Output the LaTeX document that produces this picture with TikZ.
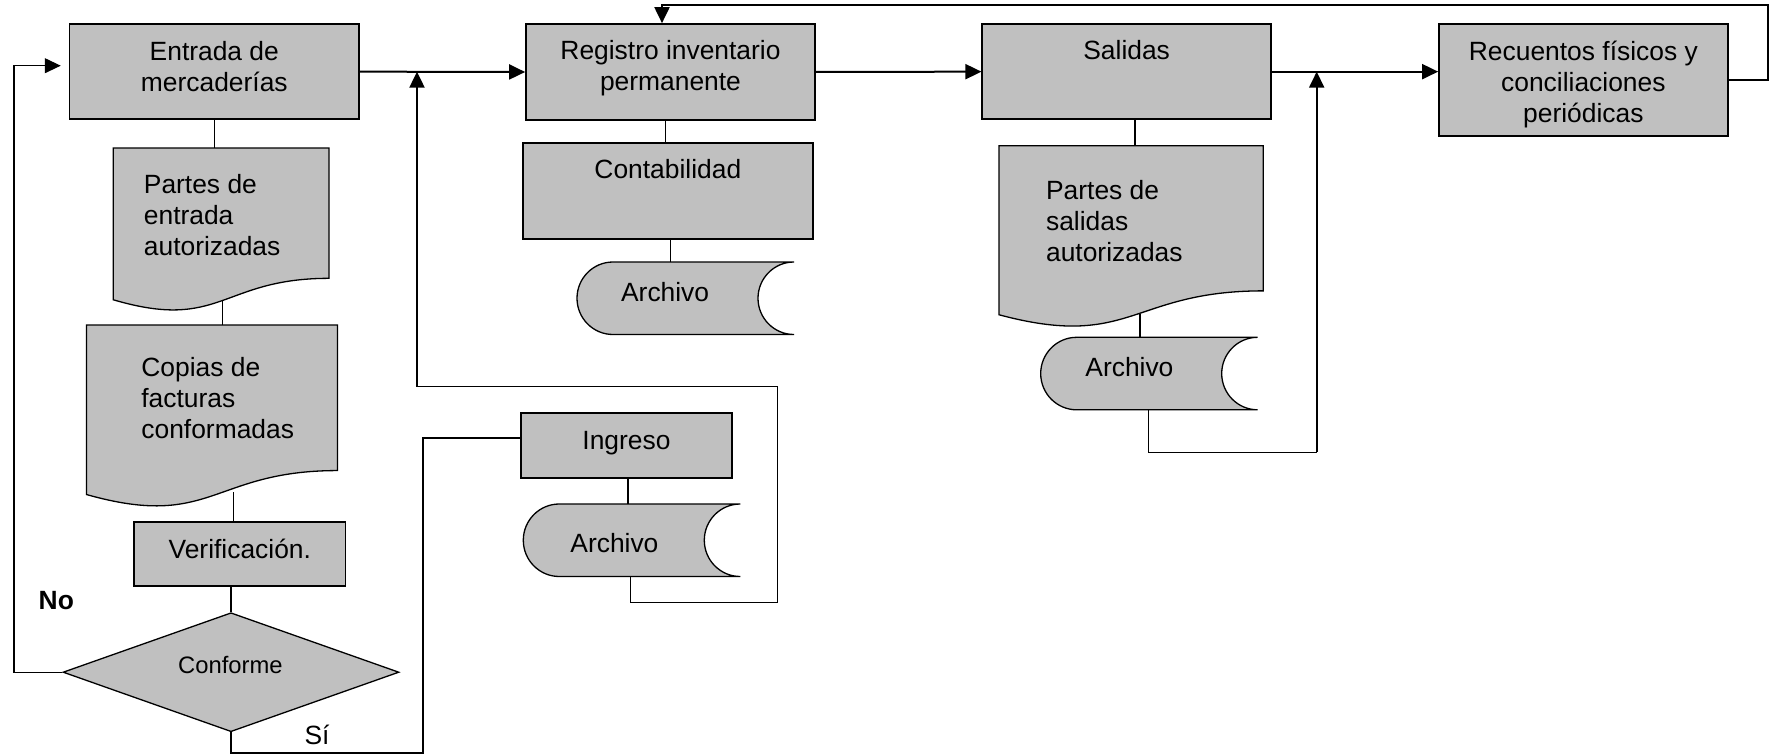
\documentclass[tikz,border=0pt]{standalone}
\usepackage{fontspec}
\setmainfont{Liberation Sans}
\usetikzlibrary{arrows.meta,shapes.geometric}
\definecolor{boxgray}{HTML}{C0C0C0}
\newcommand\txtsize{\fontsize{13.2pt}{15.5pt}\selectfont}
\newcommand\smalltxt{\fontsize{11.9pt}{14pt}\selectfont}
% document symbol: left x, right x, top y, nominal height
\newcommand\docpath[4]{%
  \pgfmathsetmacro\dcyR{#3+0.802*#4}%
  \pgfmathsetmacro\dcyC{#3+1.13*#4}%
  \pgfmathsetmacro\dcyL{#3+0.934*#4}%
  \pgfmathsetmacro\dcxM{(#1+#2)/2}%
  \path[shapeline] (#1,#3) -- (#2,#3) -- (#2,\dcyR)
    .. controls (\dcxM,\dcyR) and (\dcxM,\dcyC) .. (#1,\dcyL) -- cycle;}
\begin{document}
\begin{tikzpicture}[x=0.5pt,y=-0.5pt,
  boxshape/.style={draw, fill=boxgray, line width=0.85pt, inner sep=0pt},
  sz/.style 2 args={minimum width={#1*0.5pt}, minimum height={#2*0.5pt}},
  shapeline/.style={draw, fill=boxgray, line width=0.65pt},
  link/.style={line width=0.6pt},
  flow/.style={line width=1pt, -{Triangle[length=8pt,width=7.5pt]}},
  txt/.style={font=\txtsize, inner sep=0pt, align=center},
  pics/archivo/.style={code={
    \path[shapeline] (36,0) -- (217,0)
      .. controls (197.1,0) and (181,16.25) .. (181,36.25)
      .. controls (181,56.25) and (197.1,72.5) .. (217,72.5)
      -- (36,72.5)
      .. controls (16.1,72.5) and (0,56.25) .. (0,36.25)
      .. controls (0,16.25) and (16.1,0) .. (36,0) -- cycle;
  }}]
\useasboundingbox (0,0) rectangle (1769,755);

% ---- process boxes
\node[boxshape, sz={289.4}{95.3}] (ent) at (214.3,71.65) {};
\node[boxshape, sz={289}{96}] (reg) at (670.5,72) {};
\node[boxshape, sz={289.7}{96}] (cont) at (667.85,191) {};
\node[boxshape, sz={288.7}{95.3}] (sal) at (1126.65,71.65) {};
\node[boxshape, sz={288.7}{111.7}] (rec) at (1583.35,79.85) {};
\node[boxshape, sz={211.6}{64}] (verif) at (239.8,553.7) {};
\node[boxshape, sz={211.6}{65}] (ing) at (626.5,445.8) {};
\node[draw, fill=boxgray, line width=0.65pt, diamond, inner sep=0pt,
      sz={336}{119}] (conf) at (231,672.2) {};

% ---- documents
\docpath{113.3}{329}{148}{162.5}
\docpath{86.5}{337.5}{325}{181.5}
\docpath{999}{1263.3}{145.7}{181}

% ---- stored data
\pic at (577,262) {archivo};
\pic at (523.3,504) {archivo};
\pic at (1040.7,337.3) {archivo};

% ---- texts (multi-line nodes sit on the baseline of their last line)
\node[txt, anchor=base] (ent-t) at (214.3,91) {Entrada de\\mercaderías};
\node[txt, anchor=base] (reg-t) at (670.5,90.5) {Registro inventario\\permanente};
\node[txt, anchor=base] (cont-t) at (667.85,178.5) {Contabilidad};
\node[txt, anchor=base] (sal-t) at (1126.65,59.5) {Salidas};
\node[txt, anchor=base] (rec-t) at (1583.35,122) {Recuentos físicos y\\conciliaciones\\periódicas};
\node[txt, anchor=base] (verif-t) at (239.8,558.3) {Verificación.};
\node[txt, anchor=base] (ing-t) at (626.5,449.3) {Ingreso};
\node[txt, anchor=base, font=\smalltxt] (conf-t) at (230.4,673.3) {Conforme};
\node[txt, align=left, anchor=base west] (pe-t) at (143.5,255.5) {Partes de\\entrada\\autorizadas};
\node[txt, align=left, anchor=base west] (cop-t) at (141,438.5) {Copias de\\facturas\\conformadas};
\node[txt, align=left, anchor=base west] (ps-t) at (1045.7,261) {Partes de\\salidas\\autorizadas};
\node[txt, anchor=base west] (a1-t) at (620.7,301.7) {Archivo};
\node[txt, anchor=base west] (a2-t) at (570,552.7) {Archivo};
\node[txt, anchor=base west] (a3-t) at (1085,376.7) {Archivo};
\node[txt, anchor=base west, font=\txtsize\bfseries] (no-t) at (38.3,609.3) {No};
\node[txt, anchor=base west] (si-t) at (304.2,744) {Sí};

% ---- connection points on the drawn symbols
\coordinate (pe-top) at (214.3,148);
\coordinate (pe-bot) at (222.7,300);
\coordinate (cop-top) at (222.7,325);
\coordinate (cop-bot) at (233.4,492);
\coordinate (a1-n) at (670.7,262);
\coordinate (a2-n) at (628,504);
\coordinate (a2-s) at (630.7,576.7);
\coordinate (ps-top) at (1135,145.7);
\coordinate (ps-bot) at (1140,314);
\coordinate (a3-n) at (1140,337.3);
\coordinate (a3-s) at (1148.3,409.3);
\coordinate (noloop) at (14,65.7);
\coordinate (siA) at (423,753);
\coordinate (siB) at (423,438);
\coordinate (retA) at (777.7,602.7);
\coordinate (retB) at (777.7,386.7);
\coordinate (upx) at (417,386.7);
\coordinate (ret3) at (1316.7,452.3);
\coordinate (fbR) at (1767.5,5.3);
\coordinate (fbL) at (662,5.3);

% ---- main flow
\draw[flow] (ent.east) -- (reg.west);
\draw[flow] (reg.east) -- (sal.west);
\draw[flow] (sal.east) -- (sal.east -| rec.west);
\draw[flow] (rec.east) -| (fbR) -- (fbL) -- (fbL |- reg.north);

% ---- entry column
\draw[link] (ent.south) -- (pe-top);
\draw[link] (pe-bot) -- (cop-top);
\draw[link] (cop-bot) -- (cop-bot |- verif.north);
\draw[link] (verif.south -| conf.north) -- (conf.north);
\draw[link, -{Triangle[length=8pt,width=7.5pt]}, shorten >=4pt]
  (conf.west) -| (noloop) -- (noloop -| ent.west);
\draw[link] (conf.south) |- (siA) -- (siB) -- (siB -| ing.west);
\draw[link] (a2-n |- ing.south) -- (a2-n);
\draw[link] (a2-s) |- (retA) -- (retB) -- (upx);
\draw[flow] (upx) -- (upx |- ent.east);

% ---- register and exits
\draw[link] ([xshift=-2.4pt]reg.south) -- ([xshift=-2.4pt]reg.south |- cont.north);
\draw[link] (a1-n |- cont.south) -- (a1-n);
\draw[link] (ps-top |- sal.south) -- (ps-top);
\draw[link] (ps-bot) -- (a3-n);
\draw[link] (a3-s) |- (ret3);
\draw[flow] (ret3) -- (ret3 |- sal.east);
\end{tikzpicture}
\end{document}
